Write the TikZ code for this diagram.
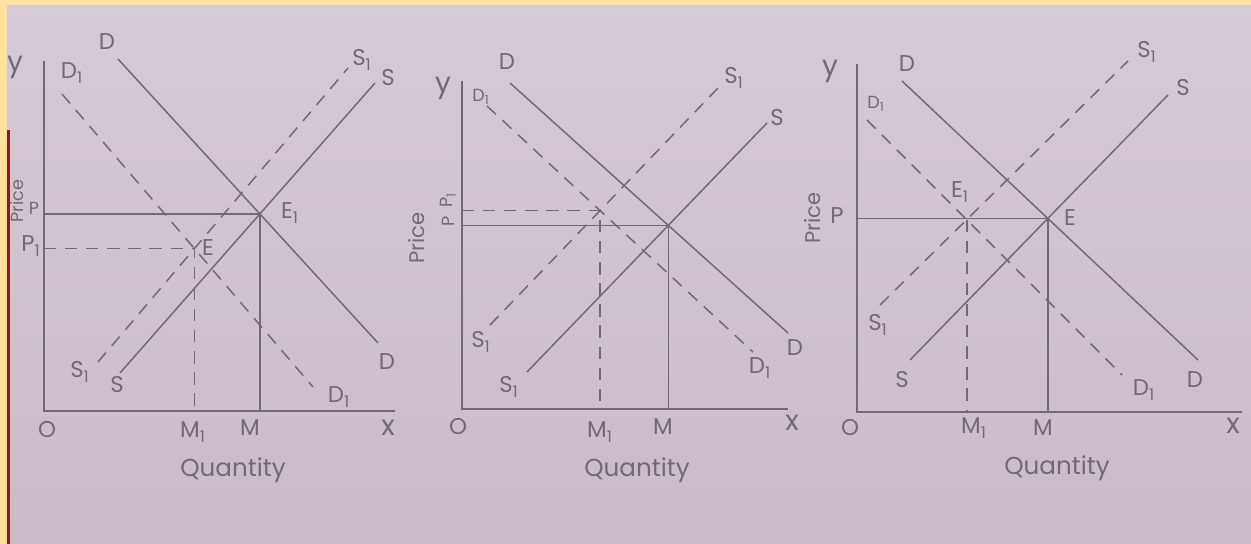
\documentclass[tikz,border=0pt]{standalone}
\usepackage{fontspec}
\setmainfont{Poppins}
\definecolor{paper}{HTML}{D6CAD6}
\definecolor{paperlow}{HTML}{CABBC9}
\definecolor{frame}{HTML}{FFE39C}
\definecolor{edge}{HTML}{8E1B1B}
\definecolor{pencil}{HTML}{736879}
\tikzset{
  solidline/.style={line width=0.85pt,draw=pencil},
  dashline/.style={solidline,dash pattern=on 7pt off 5pt},
  axisline/.style={line width=0.95pt,draw=pencil},
  guide/.style={line width=0.8pt,draw=pencil},
  guidedash/.style={guide,dash pattern=on 7pt off 5pt},
  lbl/.style={text=pencil,font=\fontsize{13}{15}\selectfont,inner sep=0pt}
}
\begin{document}
\begin{tikzpicture}[
    x=0.2mm,y=-0.2mm,
    qty/.style={lbl,font=\fontsize{14}{16}\selectfont},
    axlbl/.style={lbl,font=\fontsize{16}{18}\selectfont},
    pricelbl/.style={lbl,font=\fontsize{12}{14}\selectfont,rotate=90},
    small/.style={lbl,font=\fontsize{10}{12}\selectfont}
  ]
    \useasboundingbox (0,0) rectangle (1251,544);
    \shade[top color=paper,bottom color=paperlow] (0,0) rectangle (1251,544);
    \fill[frame] (0,0) rectangle (1251,5);
    \fill[frame] (0,0) rectangle (7,544);
    \fill[edge] (7,130) rectangle (10,544);

    % first graph
    \coordinate (aO) at (44,411);
    \coordinate (aY) at (44,61);
    \coordinate (aX) at (395,411);
    \coordinate (aD0) at (118,59);  \coordinate (aD1) at (378,343);
    \coordinate (aDd0) at (62,94);  \coordinate (aDd1) at (313,387);
    \coordinate (aS0) at (120,373); \coordinate (aS1) at (375,83);
    \coordinate (aSs0) at (98,362); \coordinate (aSs1) at (348,68);
    \coordinate (aE1) at (intersection of aD0--aD1 and aS0--aS1);
    \coordinate (aE) at (intersection of aDd0--aDd1 and aSs0--aSs1);
    \draw[axisline] (aY) -- (aO) -- (aX);
    \draw[solidline] (aD0) -- (aD1);
    \draw[solidline] (aS0) -- (aS1);
    \draw[dashline] (aDd0) -- (aDd1);
    \draw[dashline] (aSs0) -- (aSs1);
    \draw[guide] (aE1 -| aO) -- (aE1) -- (aE1 |- aO);
    \draw[guidedash] (aE -| aO) -- (aE) -- (aE |- aO);
    \node[axlbl] (aYl) at (15,67) {y};
    \node[lbl] (aDt) at (107,42) {D};
    \node[lbl] (aDb) at (387,362) {D};
    \node[lbl] (aDdt) at (72,73) {D\textsubscript{1}};
    \node[lbl] (aDdb) at (339,397) {D\textsubscript{1}};
    \node[lbl] (aSst) at (362,60) {S\textsubscript{1}};
    \node[lbl] (aSsb) at (80,372) {S\textsubscript{1}};
    \node[lbl] (aSt) at (388,78) {S};
    \node[lbl] (aSb) at (117,385) {S};
    \node[lbl] (aE1l) at (290,213) {E\textsubscript{1}};
    \node[lbl] (aEl) at (208,248) {E};
    \node[small,rotate=90] (aPr) at (17,201) {Price};
    \node[small] (aP) at (34,208) {P};
    \node[lbl] (aP1) at (31,246) {P\textsubscript{1}};
    \node[lbl] (aOl) at (47,430) {O};
    \node[lbl] (aM1) at (193,432) {M\textsubscript{1}};
    \node[lbl] (aM) at (250,428) {M};
    \node[axlbl] (aXl) at (388,428) {x};
    \node[qty] (aQ) at (233,470) {Quantity};

    % second graph
    \coordinate (bO) at (462,409);
    \coordinate (bY) at (462,81);
    \coordinate (bX) at (788,409);
    \coordinate (bD0) at (510,83);  \coordinate (bD1) at (788,333);
    \coordinate (bDd0) at (487,106); \coordinate (bDd1) at (753,352);
    \coordinate (bS0) at (527,372); \coordinate (bS1) at (767,123);
    \coordinate (bSs0) at (490,325); \coordinate (bSs1) at (718,88);
    \coordinate (bE) at (intersection of bD0--bD1 and bS0--bS1);
    \coordinate (bE1) at (intersection of bDd0--bDd1 and bSs0--bSs1);
    \draw[axisline] (bY) -- (bO) -- (bX);
    \draw[solidline] (bD0) -- (bD1);
    \draw[solidline] (bS0) -- (bS1);
    \draw[dashline] (bDd0) -- (bDd1);
    \draw[dashline] (bSs0) -- (bSs1);
    \draw[guide] (bE -| bO) -- (bE) -- (bE |- bO);
    \draw[guidedash] (bE1 -| bO) -- (bE1) -- (bE1 |- bO);
    \node[axlbl] (bYl) at (443,88) {y};
    \node[lbl] (bDt) at (507,62) {D};
    \node[lbl] (bDb) at (795,348) {D};
    \node[small] (bDdt) at (481,97) {D\textsubscript{1}};
    \node[lbl] (bDdb) at (760,368) {D\textsubscript{1}};
    \node[lbl] (bSst) at (734,78) {S\textsubscript{1}};
    \node[lbl] (bSt) at (777,118) {S};
    \node[lbl] (bSsb) at (481,342) {S\textsubscript{1}};
    \node[lbl] (bSb) at (509,387) {S\textsubscript{1}};
    \node[pricelbl] (bPr) at (417,238) {Price};
    \node[small,rotate=90] (bP1) at (448,200) {P\textsubscript{1}};
    \node[small,rotate=90] (bP) at (448,221) {P};
    \node[lbl] (bOl) at (458,427) {O};
    \node[lbl] (bM1) at (600,432) {M\textsubscript{1}};
    \node[lbl] (bM) at (663,427) {M};
    \node[axlbl] (bXl) at (792,423) {x};
    \node[qty] (bQ) at (637,470) {Quantity};

    % third graph
    \coordinate (cO) at (857,412);
    \coordinate (cY) at (857,64);
    \coordinate (cX) at (1242,412);
    \coordinate (cD0) at (902,81);  \coordinate (cD1) at (1198,360);
    \coordinate (cDd0) at (867,120); \coordinate (cDd1) at (1122,375);
    \coordinate (cS0) at (910,360); \coordinate (cS1) at (1168,95);
    \coordinate (cSs0) at (880,305); \coordinate (cSs1) at (1128,61);
    \coordinate (cE) at (intersection of cD0--cD1 and cS0--cS1);
    \coordinate (cE1) at (intersection of cDd0--cDd1 and cSs0--cSs1);
    \draw[axisline] (cY) -- (cO) -- (cX);
    \draw[solidline] (cD0) -- (cD1);
    \draw[solidline] (cS0) -- (cS1);
    \draw[dashline] (cDd0) -- (cDd1);
    \draw[dashline] (cSs0) -- (cSs1);
    \draw[guide] (cE -| cO) -- (cE) -- (cE |- cO);
    \draw[guidedash] (cE1) -- (cE1 |- cO);
    \node[axlbl] (cYl) at (830,71) {y};
    \node[lbl] (cDt) at (907,64) {D};
    \node[lbl] (cDb) at (1195,380) {D};
    \node[small] (cDdt) at (876,104) {D\textsubscript{1}};
    \node[lbl] (cDdb) at (1144,390) {D\textsubscript{1}};
    \node[lbl] (cSst) at (1147,52) {S\textsubscript{1}};
    \node[lbl] (cSt) at (1183,88) {S};
    \node[lbl] (cSsb) at (878,325) {S\textsubscript{1}};
    \node[lbl] (cSb) at (902,380) {S};
    \node[lbl] (cEl) at (1070,218) {E};
    \node[lbl] (cE1l) at (960,192) {E\textsubscript{1}};
    \node[pricelbl] (cPr) at (813,218) {Price};
    \node[lbl] (cP) at (837,216) {P};
    \node[lbl] (cOl) at (850,428) {O};
    \node[lbl] (cM1) at (974,428) {M\textsubscript{1}};
    \node[lbl] (cM) at (1043,428) {M};
    \node[axlbl] (cXl) at (1233,426) {x};
    \node[qty] (cQ) at (1057,468) {Quantity};
  \end{tikzpicture}
\end{document}
